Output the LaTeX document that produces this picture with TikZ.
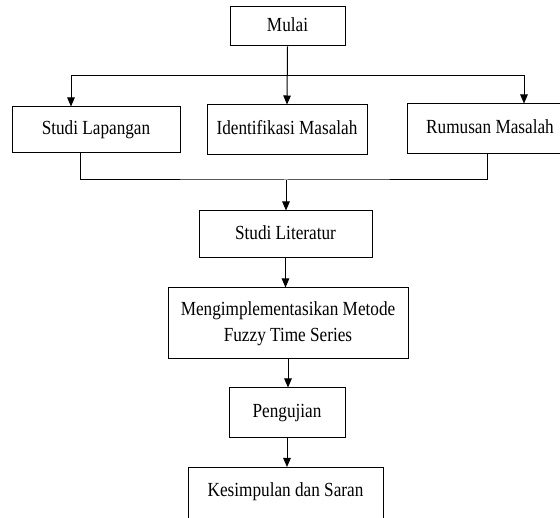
\documentclass[tikz,border=0pt]{standalone}
\usepackage{fontspec}
\setmainfont{Liberation Serif}[FakeStretch=0.86]
\usetikzlibrary{arrows.meta}

\begin{document}
\begin{tikzpicture}
  [x=1pt,y=1pt,
  every node/.style={draw,rectangle,inner sep=0pt,line width=1pt,
    font=\fontsize{20}{26}\selectfont,text height=13.5pt,text depth=4pt},
  >={Triangle[length=9pt,width=7.5pt]},
  line width=1pt]

\clip (0,0) rectangle (560,-518);

\node[minimum width=115pt,minimum height=39pt] (mulai)        at (287.5,-26.5) {Mulai};
\node[minimum width=168pt,minimum height=46pt] (lapangan)     at (96,-130)     {Studi Lapangan};
\node[minimum width=160pt,minimum height=50pt] (identifikasi) at (287,-130)    {Identifikasi Masalah};
\node[minimum width=166pt,minimum height=50pt] (rumusan)      at (490,-129)    {Rumusan Masalah};
\node[minimum width=173pt,minimum height=47pt] (literatur)    at (285.5,-234.5) {Studi Literatur};
\node[minimum width=240pt,minimum height=71pt,align=center,
      text height=,text depth=] (metode) at (288,-323.5)
      {Mengimplementasikan Metode\\Fuzzy Time Series};
\node[minimum width=116pt,minimum height=50pt] (pengujian)    at (287,-413)    {Pengujian};
\node[minimum width=195pt,anchor=north,inner ysep=16pt,
      text depth=45pt] (kesimpulan) at (285.5,-467) {Kesimpulan dan Saran};

\coordinate (split) at (287,-76);
\coordinate (join)  at (286,-180);

\draw[->] (mulai.south) -- (identifikasi.north);
\draw[->] (split) -| ([xshift=-25pt]lapangan.north);
\draw[->] (split) -| ([xshift=34pt]rumusan.north);
\draw ([xshift=-16pt]lapangan.south) |- (join) -| ([xshift=-3pt]rumusan.south);
\draw[->] (join) -- (join |- literatur.north);
\draw[->] (literatur.south) -- (literatur.south |- metode.north);
\draw[->] (metode.south) -- (metode.south |- pengujian.north);
\draw[->] (pengujian.south) -- (pengujian.south |- kesimpulan.north);
\end{tikzpicture}
\end{document}
